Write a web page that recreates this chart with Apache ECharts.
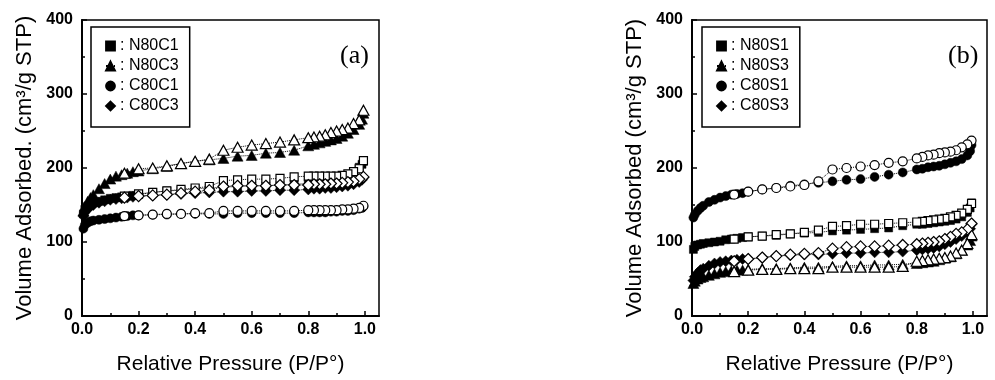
<!DOCTYPE html>
<html>
<head>
<meta charset="utf-8">
<script src="https://cdn.jsdelivr.net/npm/echarts@6/dist/echarts.min.js"></script>
<style>
html,body{margin:0;padding:0;background:#fff;}
#chart{width:995px;height:380px;}
</style>
</head>
<body>
<div id="chart"></div>
<script>
// Relative pressure grids (adsorption up, desorption down)
var adsP = [0.005,0.01,0.02,0.03,0.04,0.06,0.08,0.10,0.12,0.14,0.16,0.18,0.20,0.25,0.30,0.35,0.40,0.45,0.50,0.55,0.60,0.65,0.70,0.75,0.80,0.82,0.84,0.86,0.88,0.90,0.92,0.94,0.96,0.98,0.99,0.995];
var desP = [0.995,0.98,0.96,0.94,0.92,0.90,0.88,0.86,0.84,0.82,0.80,0.75,0.70,0.65,0.60,0.55,0.50,0.45,0.40,0.35,0.30,0.25,0.20,0.15];

// Panel (a)
var N80C1_ads = [138,144,148,151,153,155,157,159,160,161,162,163,164,167,169,170,172,173,174,175,176,176,177,178,179,180,181,182,183,185,187,190,195,201,205,209];
var N80C1_des = [210,199,195,192,190,189,189,189,189,189,189,188,186,185,185,184,183,175,173,171,169,167,165,162];
var N80C3_ads = [142,148,155,160,164,172,179,185,189,191,193,195,196,199,202,206,209,211,213,216,217,220,221,224,230,232,234,236,238,240,243,247,252,259,266,274];
var N80C3_des = [278,265,260,254,252,250,248,245,243,242,241,238,235,233,231,228,224,212,209,206,203,200,199,193];
var C80C1_ads = [118,123,126,128,129,130,131,132,133,134,135,136,136,137,137,138,138,138,138,139,139,139,139,139,140,140,140,140,141,141,142,142,143,145,146,148];
var C80C1_des = [149,146,145,144,144,143,143,143,143,143,143,142,142,142,142,142,142,139,139,138,138,137,136,135];
var C80C3_ads = [135,140,145,148,150,153,155,157,158,159,160,161,162,163,164,165,166,167,168,168,169,169,170,170,171,172,172,173,173,174,175,176,178,181,184,187];
var C80C3_des = [188,185,182,181,180,179,179,178,178,178,177,177,177,176,176,176,175,170,168,166,164,163,162,160];

// Panel (b)
var N80S1_ads = [90,94,96,97,98,99,100,101,103,104,105,106,107,108,109,111,112,113,115,116,117,118,119,122,124,124,125,126,127,128,129,131,134,140,146,153];
var N80S1_des = [152,144,139,136,134,132,131,130,129,128,127,126,125,124,124,122,121,116,113,111,110,108,107,104];
var N80S3_ads = [44,47,50,52,53,55,57,59,60,61,62,62,63,64,64,65,66,66,67,68,68,69,69,70,71,72,73,74,76,78,80,84,89,96,102,108];
var N80S3_des = [110,98,89,85,81,79,78,77,76,75,74,67,66,66,66,66,66,64,64,64,63,63,62,60];
var C80S1_ads = [133,137,142,146,149,154,157,160,162,164,165,166,168,171,173,176,178,180,182,184,185,188,191,194,198,199,201,202,203,205,207,209,212,217,223,231];
var C80S1_des = [237,232,228,224,222,221,220,218,217,215,213,209,207,204,202,200,198,182,177,175,173,171,168,164];
var C80S3_ads = [48,53,58,62,64,68,71,73,74,75,76,77,77,79,81,82,83,83,84,85,85,86,86,87,89,90,91,92,94,97,100,104,108,113,118,124];
var C80S3_des = [125,117,113,111,107,104,101,100,99,98,97,96,95,94,94,93,91,85,84,83,81,79,77,74];

// Axis ticks
var xMajorTicks = [0, 0.2, 0.4, 0.6, 0.8, 1.0];
var xMinorTicks = [0.1, 0.3, 0.5, 0.7, 0.9];
var yTicks = [0, 100, 200, 300, 400];

var namesA = ['N80C1','N80C3','C80C1','C80C3'];
var namesB = ['N80S1','N80S3','C80S1','C80S3'];

var chart = echarts.init(document.getElementById('chart'), null, {renderer:'canvas'});
var FONT = 'Liberation Sans';

function pairs(ps, vs){ return ps.map(function(p,i){ return [p, vs[i]]; }); }

var symbolOf = {
  rect: {symbol:'rect', size:[8,8]},
  triangle: {symbol:'triangle', size:[11,10]},
  circle: {symbol:'circle', size:[9,9]},
  diamond: {symbol:'diamond', size:[11,11]}
};

function mkSeries(name, ads, des, shape, axisIdx){
  var s = symbolOf[shape];
  return [{
    name: name, type:'line', xAxisIndex: axisIdx*2, yAxisIndex: axisIdx,
    data: pairs(adsP, ads), symbol: s.symbol, symbolSize: s.size, showSymbol:true,
    lineStyle:{type:'dotted', width:1, color:'#000'},
    itemStyle:{color:'#000', borderColor:'#000', borderWidth:0.5}, z:3
  },{
    name: name + ' (desorption)', type:'line', xAxisIndex: axisIdx*2, yAxisIndex: axisIdx,
    data: pairs(desP, des), symbol: s.symbol, symbolSize: s.size, showSymbol:true,
    lineStyle:{type:'dotted', width:1, color:'#000'},
    itemStyle:{color:'#fff', borderColor:'#000', borderWidth:1.2}, z:4
  }];
}

var series = [].concat(
  mkSeries('N80C1', N80C1_ads, N80C1_des, 'rect', 0),
  mkSeries('N80C3', N80C3_ads, N80C3_des, 'triangle', 0),
  mkSeries('C80C1', C80C1_ads, C80C1_des, 'circle', 0),
  mkSeries('C80C3', C80C3_ads, C80C3_des, 'diamond', 0),
  mkSeries('N80S1', N80S1_ads, N80S1_des, 'rect', 1),
  mkSeries('N80S3', N80S3_ads, N80S3_des, 'triangle', 1),
  mkSeries('C80S1', C80S1_ads, C80S1_des, 'circle', 1),
  mkSeries('C80S3', C80S3_ads, C80S3_des, 'diamond', 1)
);

function xAxisPair(gridIndex){
  return [{
    type:'value', gridIndex:gridIndex, min:0, max:1.05, interval:0.2, position:'bottom',
    name:'Relative Pressure (P/P°)', nameLocation:'middle', nameGap:38,
    nameTextStyle:{fontFamily:FONT, fontSize:21, color:'#000'},
    axisLine:{show:true, onZero:false, lineStyle:{color:'#000', width:2}},
    axisTick:{show:true, inside:true, length:5, customValues: xMajorTicks, lineStyle:{color:'#000', width:1.5}},
    axisLabel:{show:true, customValues: xMajorTicks, margin:6, fontFamily:FONT, fontSize:16, fontWeight:'bold', color:'#000',
      formatter:function(v){ return v.toFixed(1); }},
    splitLine:{show:false}
  },{
    type:'value', gridIndex:gridIndex, min:0, max:1.05, position:'bottom',
    axisLine:{show:false},
    axisTick:{show:true, inside:true, length:3, customValues: xMinorTicks, lineStyle:{color:'#000', width:1.5}},
    axisLabel:{show:false},
    splitLine:{show:false}
  }];
}

function yAxisOf(gridIndex, name){
  return {
    type:'value', gridIndex:gridIndex, min:0, max:400, interval:100,
    name:name, nameLocation:'middle', nameGap:46,
    nameTextStyle:{fontFamily:FONT, fontSize:22, color:'#000'},
    axisLine:{show:true, onZero:false, lineStyle:{color:'#000', width:2}},
    axisTick:{show:true, inside:true, length:5, lineStyle:{color:'#000', width:1.5}},
    minorTick:{show:true, splitNumber:2, length:3, lineStyle:{color:'#000', width:1.5}},
    axisLabel:{margin:9, fontFamily:FONT, fontSize:16, fontWeight:'bold', color:'#000',
      customValues: yTicks},
    splitLine:{show:false}
  };
}

function legendOf(left, names){
  return {
    data: names, left:left, top:27, orient:'vertical', selectedMode:false,
    backgroundColor:'#fff', borderColor:'#000', borderWidth:1.5,
    padding:[11,11,13,14], itemGap:4, itemWidth:9, itemHeight:11,
    formatter:': {name}',
    textStyle:{fontFamily:FONT, fontSize:16, color:'#000', lineHeight:16}
  };
}

var option = {
  animation:false,
  backgroundColor:'#fff',
  title:[
    {text:'(a)', left:335, top:38, textStyle:{fontFamily:'Liberation Serif', fontSize:26, fontWeight:'normal', color:'#000'}},
    {text:'(b)', left:943, top:38, textStyle:{fontFamily:'Liberation Serif', fontSize:26, fontWeight:'normal', color:'#000'}}
  ],
  legend:[ legendOf(91, namesA), legendOf(702, namesB) ],
  grid:[
    {left:82, top:20, width:297, height:299, show:true, borderColor:'#000', borderWidth:1.5, backgroundColor:'transparent'},
    {left:692, top:20, width:295, height:299, show:true, borderColor:'#000', borderWidth:1.5, backgroundColor:'transparent'}
  ],
  xAxis: xAxisPair(0).concat(xAxisPair(1)),
  yAxis:[ yAxisOf(0, 'Volume Adsorbed. (cm³/g STP)'), yAxisOf(1, 'Volume Adsorbed (cm³/g STP)') ],
  series: series
};
chart.setOption(option);
</script>
</body>
</html>
